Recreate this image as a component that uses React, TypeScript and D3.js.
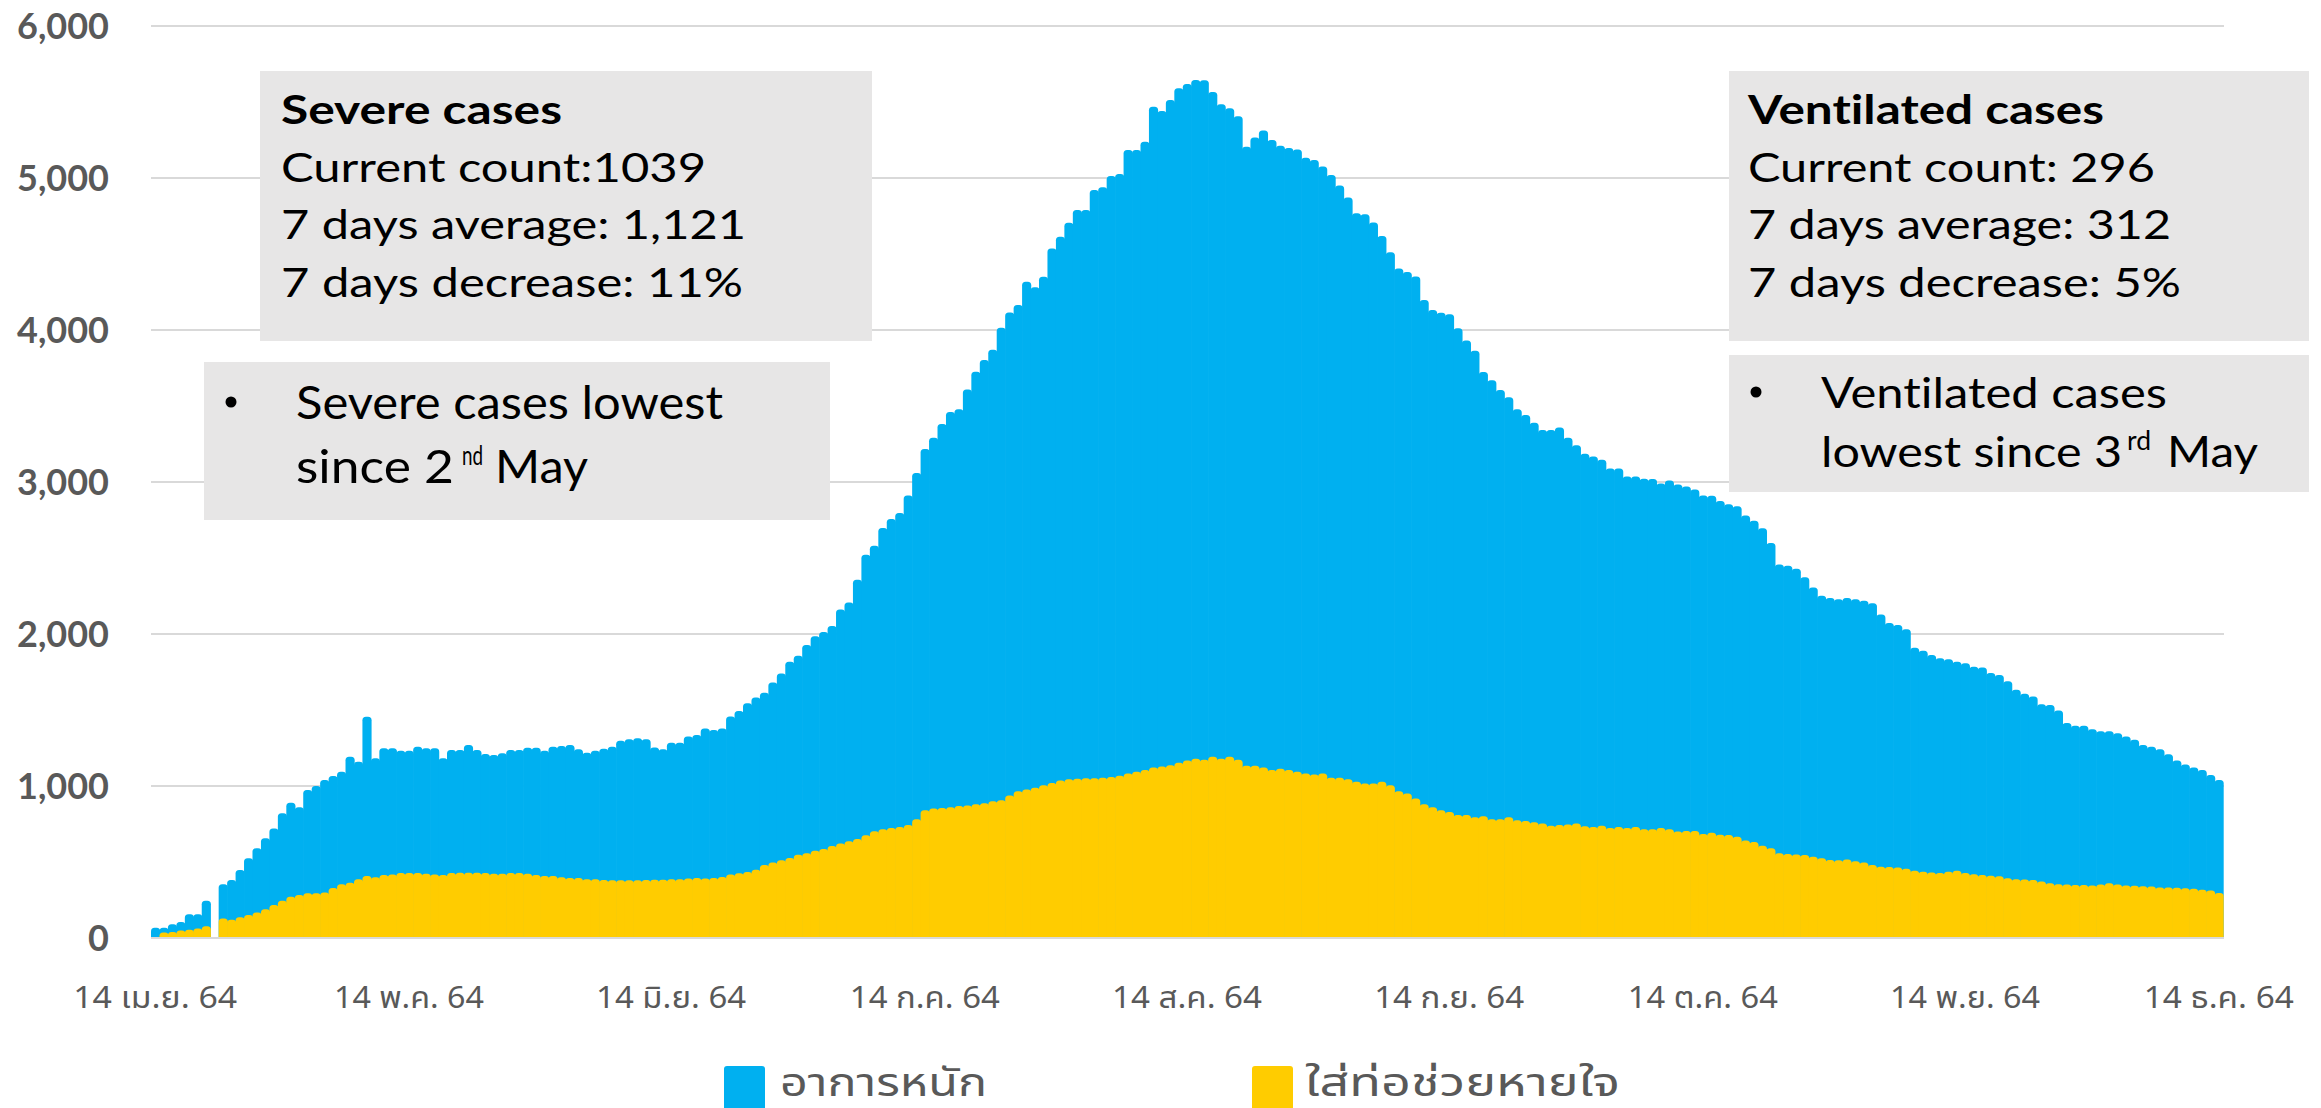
import React from 'react';
import * as d3 from 'd3';

// ---------------- data ----------------
const START_DATE = '2021-04-14';
const END_DATE = '2021-12-14';

// อาการหนัก (severe cases), one value per day from 14 Apr 2021
const severe = [
  68, 68, 90, 105, 156, 156, 245, 0, 353, 381, 447, 524, 590, 656, 721, 820, 890, 860, 974, 1000,
  1039, 1066, 1094, 1193, 1160, 1456, 1182, 1248, 1248, 1232, 1232, 1259, 1248, 1248, 1182, 1237, 1237, 1270, 1237, 1211,
  1204, 1215, 1237, 1237, 1252, 1252, 1232, 1259, 1263, 1270, 1241, 1219, 1232, 1245, 1259, 1298, 1307, 1314, 1307, 1254,
  1241, 1285, 1285, 1325, 1335, 1378, 1368, 1378, 1458, 1493, 1544, 1583, 1614, 1681, 1740, 1818, 1857, 1928, 1986, 2013,
  2053, 2162, 2208, 2357, 2521, 2580, 2697, 2756, 2796, 2912, 3060, 3217, 3291, 3382, 3460, 3479, 3608, 3725, 3803, 3870,
  4015, 4115, 4164, 4318, 4281, 4351, 4537, 4614, 4706, 4789, 4789, 4921, 4939, 5013, 5026, 5184, 5184, 5239, 5469, 5441,
  5513, 5590, 5618, 5645, 5643, 5565, 5485, 5459, 5407, 5205, 5267, 5312, 5250, 5212, 5197, 5188, 5134, 5118, 5076, 5020,
  4950, 4871, 4768, 4762, 4708, 4619, 4511, 4405, 4381, 4352, 4198, 4132, 4113, 4104, 4012, 3931, 3863, 3724, 3669, 3606,
  3557, 3479, 3440, 3389, 3342, 3342, 3358, 3291, 3241, 3186, 3167, 3147, 3088, 3088, 3037, 3037, 3022, 3020, 2990, 3010,
  2983, 2971, 2951, 2912, 2910, 2875, 2854, 2840, 2780, 2745, 2695, 2599, 2457, 2449, 2429, 2374, 2306, 2251, 2237, 2229,
  2237, 2229, 2218, 2202, 2128, 2073, 2059, 2032, 1909, 1889, 1862, 1840, 1834, 1818, 1807, 1785, 1780, 1744, 1730, 1689,
  1634, 1607, 1588, 1538, 1533, 1497, 1415, 1396, 1396, 1374, 1360, 1360, 1347, 1325, 1305, 1270, 1259, 1242, 1209, 1168,
  1141, 1122, 1105, 1072, 1039,
];

// ใส่ท่อช่วยหายใจ (ventilated cases)
const ventilated = [
  0, 37, 40, 50, 55, 62, 77, 0, 129, 120, 137, 151, 167, 189, 217, 245, 272, 283, 294, 294,
  300, 329, 353, 364, 386, 408, 400, 414, 418, 428, 428, 428, 423, 418, 414, 428, 430, 430, 430, 428,
  423, 423, 428, 428, 423, 414, 408, 408, 400, 395, 395, 386, 386, 382, 380, 380, 380, 380, 382, 384,
  384, 386, 386, 391, 395, 391, 395, 402, 418, 426, 434, 449, 480, 496, 511, 527, 547, 558, 574, 586,
  605, 621, 637, 652, 676, 703, 715, 723, 731, 743, 782, 840, 852, 856, 860, 868, 872, 880, 887, 899,
  907, 938, 966, 977, 989, 1005, 1020, 1036, 1044, 1048, 1051, 1051, 1055, 1059, 1067, 1083, 1094, 1106, 1122, 1129,
  1137, 1153, 1168, 1180, 1172, 1192, 1180, 1192, 1172, 1133, 1133, 1122, 1106, 1114, 1106, 1094, 1083, 1075, 1083, 1055,
  1055, 1044, 1028, 1016, 1016, 1028, 1005, 966, 950, 918, 880, 860, 840, 829, 809, 809, 794, 801, 782, 782,
  794, 774, 770, 762, 754, 739, 743, 747, 754, 735, 731, 739, 723, 731, 723, 731, 715, 715, 723, 715,
  700, 704, 704, 684, 692, 680, 677, 666, 642, 631, 607, 590, 557, 552, 549, 546, 535, 524, 513, 511,
  516, 505, 497, 480, 469, 467, 464, 456, 442, 436, 431, 428, 436, 442, 428, 420, 414, 409, 406, 393,
  387, 385, 382, 371, 360, 354, 352, 349, 349, 346, 352, 360, 352, 346, 343, 341, 338, 332, 332, 330,
  327, 324, 318, 313, 296,
];

const yTicks = [0, 1000, 2000, 3000, 4000, 5000, 6000];

const xTickDates = [
  '2021-04-14', '2021-05-14', '2021-06-14', '2021-07-14', '2021-08-14',
  '2021-09-14', '2021-10-14', '2021-11-14', '2021-12-14',
];
const xTickLabels = [
  '14 เม.ย. 64', '14 พ.ค. 64', '14 มิ.ย. 64', '14 ก.ค. 64', '14 ส.ค. 64',
  '14 ก.ย. 64', '14 ต.ค. 64', '14 พ.ย. 64', '14 ธ.ค. 64',
];

const seriesNames = ['อาการหนัก', 'ใส่ท่อช่วยหายใจ'];

const severeBoxLines = ['Severe cases', 'Current count:1039', '7 days average: 1,121', '7 days decrease: 11%'];
const ventBoxLines = ['Ventilated cases', 'Current count: 296', '7 days average: 312', '7 days decrease: 5%'];

// ---------------- styling ----------------
const W = 2321;
const H = 1108;
const BLUE = '#00B0F0';
const YELLOW = '#FFCC00';
const GRID = '#D9D9D9';
const AXIS_TEXT = '#595959';
const BOX_FILL = '#E7E6E6';
const BOX_FONT = "Lato, 'Open Sans', 'Noto Sans', sans-serif";
const THAI_FONT = "'Liberation Sans Narrow', 'Arial Narrow', 'Noto Sans Thai', 'Noto Sans', 'DejaVu Sans Condensed', sans-serif";
const NOLIG = { fontVariantLigatures: 'none' as const, fontFeatureSettings: '"liga" 0, "clig" 0' };

const parse = d3.utcParse('%Y-%m-%d');
const fmt = d3.utcFormat('%Y-%m-%d');

function barPath(x: number, y: number, w: number, h: number, r: number) {
  if (h <= 0) return '';
  const rr = Math.min(r, h, w / 2);
  return `M${x},${y + h}V${y + rr}Q${x},${y} ${x + rr},${y}H${x + w - rr}Q${x + w},${y} ${x + w},${y + rr}V${y + h}Z`;
}

export default function App() {
  const days = d3.utcDay.range(parse(START_DATE)!, d3.utcDay.offset(parse(END_DATE)!, 1)).map(fmt);

  const x = d3.scaleBand<string>().domain(days).range([151, 2223]).padding(0);
  const y = d3.scaleLinear().domain([0, 6000]).range([938, 26]);
  const bw = x.bandwidth();

  const bars = (vals: number[], color: string, key: string) =>
    vals.map((v, i) => {
      const x0 = x(days[i])!;
      const y0 = y(v);
      return <path key={key + i} d={barPath(x0, y0, bw + 0.7, y(0) - y0, 3.5)} fill={color} />;
    });

  const lineGap = 57.6;

  return (
    <svg
      width={W}
      height={H}
      viewBox={`0 0 ${W} ${H}`}
      style={{ position: 'fixed', left: 0, top: 0, background: '#fff' }}
    >
      <rect x={0} y={0} width={W} height={H} fill="#fff" />
      {/* gridlines */}
      {yTicks.map((t) => (
        <line key={'g' + t} x1={151} x2={2224} y1={y(t)} y2={y(t)} stroke={GRID} strokeWidth={2} />
      ))}
      {/* y labels */}
      {yTicks.map((t) => (
        <text
          key={'yl' + t}
          x={109}
          y={y(t)}
          dy="0.36em"
          textAnchor="end"
          fontFamily={BOX_FONT}
          fontWeight={700}
          fontSize={36}
          fill={AXIS_TEXT}
        >
          {d3.format(',')(t)}
        </text>
      ))}

      {/* bars */}
      <g>{bars(severe, BLUE, 's')}</g>
      <g>{bars(ventilated, YELLOW, 'v')}</g>

      {/* x labels */}
      {xTickDates.map((d, i) => (
        <text
          key={'xl' + d}
          x={x(d)! + bw / 2}
          y={1008}
          textAnchor="middle"
          fontFamily={THAI_FONT}
          fontSize={31}
          fill={AXIS_TEXT}
          textLength={i === 0 ? 164 : 150}
          lengthAdjust="spacingAndGlyphs"
        >
          {xTickLabels[i]}
        </text>
      ))}

      {/* legend */}
      <rect x={724} y={1066} width={41} height={46} fill={BLUE} rx={3} />
      <text x={780} y={1096} fontFamily={THAI_FONT} fontSize={40} fill={AXIS_TEXT} textLength={207} lengthAdjust="spacingAndGlyphs">
        {seriesNames[0]}
      </text>
      <rect x={1252} y={1066} width={41} height={46} fill={YELLOW} rx={3} />
      <text x={1305} y={1096} fontFamily={THAI_FONT} fontSize={40} fill={AXIS_TEXT} textLength={315} lengthAdjust="spacingAndGlyphs">
        {seriesNames[1]}
      </text>

      {/* Severe box */}
      <rect x={260} y={71} width={612} height={270} fill={BOX_FILL} />
      {severeBoxLines.map((s, i) => (
        <text
          key={'sb' + i}
          x={281}
          y={124 + i * lineGap}
          fontFamily={BOX_FONT}
          fontWeight={i === 0 ? 700 : 400}
          fontSize={40}
          fill="#000"
          style={NOLIG}
          textLength={[281, 425, 465, 462][i]}
          lengthAdjust="spacingAndGlyphs"
        >
          {s}
        </text>
      ))}

      {/* Severe bullet box */}
      <rect x={204} y={362} width={626} height={158} fill={BOX_FILL} />
      <circle cx={231} cy={402} r={5.5} fill="#000" />
      <text x={296} y={419} fontFamily={BOX_FONT} fontSize={46} fill="#000" style={NOLIG} textLength={427} lengthAdjust="spacingAndGlyphs">
        Severe cases lowest
      </text>
      <text x={296} y={483} fontFamily={BOX_FONT} fontSize={46} fill="#000" style={NOLIG} textLength={158} lengthAdjust="spacingAndGlyphs">
        since 2
      </text>
      <text x={462} y={465} fontFamily={BOX_FONT} fontSize={26} fill="#000" textLength={21} lengthAdjust="spacingAndGlyphs">
        nd
      </text>
      <text x={495} y={483} fontFamily={BOX_FONT} fontSize={46} fill="#000" textLength={93} lengthAdjust="spacingAndGlyphs">
        May
      </text>

      {/* Ventilated box */}
      <rect x={1729} y={71} width={580} height={270} fill={BOX_FILL} />
      {ventBoxLines.map((s, i) => (
        <text
          key={'vb' + i}
          x={1748}
          y={124 + i * lineGap}
          fontFamily={BOX_FONT}
          fontWeight={i === 0 ? 700 : 400}
          fontSize={40}
          fill="#000"
          style={NOLIG}
          textLength={[356, 407, 423, 433][i]}
          lengthAdjust="spacingAndGlyphs"
        >
          {s}
        </text>
      ))}

      {/* Ventilated bullet box */}
      <rect x={1729} y={355} width={580} height={137} fill={BOX_FILL} />
      <circle cx={1756} cy={392} r={5.5} fill="#000" />
      <text x={1821} y={408} fontFamily={BOX_FONT} fontSize={43} fill="#000" style={NOLIG} textLength={346} lengthAdjust="spacingAndGlyphs">
        Ventilated cases
      </text>
      <text x={1821} y={467} fontFamily={BOX_FONT} fontSize={43} fill="#000" style={NOLIG} textLength={301} lengthAdjust="spacingAndGlyphs">
        lowest since 3
      </text>
      <text x={2127} y={450} fontFamily={BOX_FONT} fontSize={26} fill="#000" textLength={24} lengthAdjust="spacingAndGlyphs">
        rd
      </text>
      <text x={2167} y={467} fontFamily={BOX_FONT} fontSize={43} fill="#000" textLength={91} lengthAdjust="spacingAndGlyphs">
        May
      </text>

      {/* x axis baseline */}
      <line x1={151} x2={2224} y1={y(0)} y2={y(0)} stroke={GRID} strokeWidth={2} />
    </svg>
  );
}
